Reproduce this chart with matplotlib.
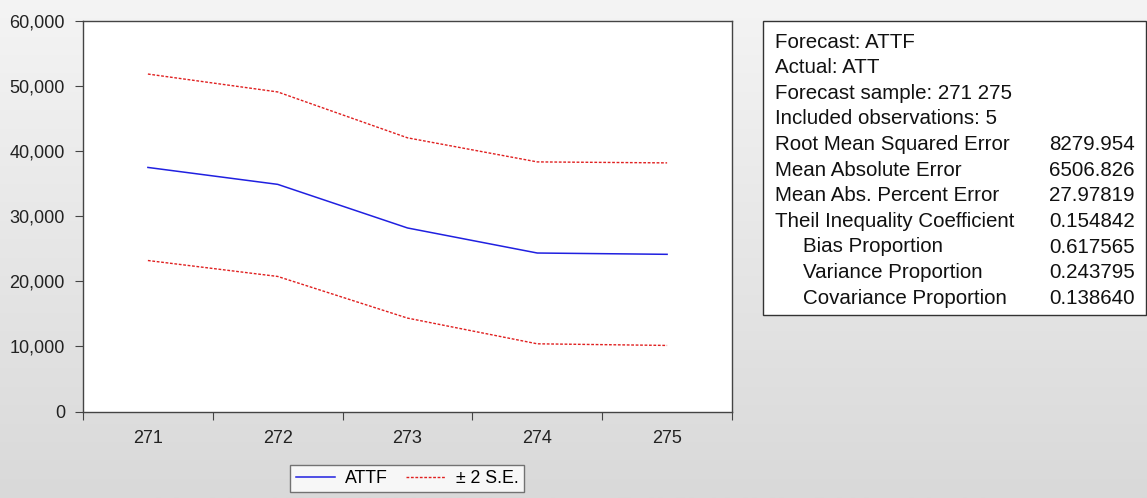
"""Forecast chart of ATTF with +/- 2 S.E. bands and forecast evaluation table."""

import numpy as np
import matplotlib.pyplot as plt
from matplotlib.patches import Rectangle
from matplotlib.ticker import FuncFormatter

plt.rcParams['font.family'] = ['Liberation Sans', 'DejaVu Sans']

# data
periods = ['271', '272', '273', '274', '275']
attf = [37500, 34900, 28200, 24350, 24150]
upper = [51850, 49100, 42050, 38350, 38200]
lower = [23200, 20750, 14350, 10400, 10150]

stat_labels = ['Forecast: ATTF', 'Actual: ATT', 'Forecast sample: 271 275',
               'Included observations: 5', 'Root Mean Squared Error',
               'Mean Absolute Error', 'Mean Abs. Percent Error',
               'Theil Inequality Coefficient', 'Bias Proportion',
               'Variance Proportion', 'Covariance Proportion']
stat_values = ['', '', '', '', '8279.954', '6506.826', '27.97819',
               '0.154842', '0.617565', '0.243795', '0.138640']
stat_indent = [False] * 8 + [True] * 3

W, H = 1147, 498
fig = plt.figure(figsize=(W / 100, H / 100), dpi=100)


def fx(x):
    return x / W


def fy(y):
    return 1 - y / H


# gray gradient background
bg = fig.add_axes([0, 0, 1, 1], zorder=-10)
grad = np.linspace(0, 1, 256)[:, None]
bg.imshow(grad, cmap=plt.matplotlib.colors.LinearSegmentedColormap.from_list(
    'g', ['#f4f4f4', '#d9d9d9']), aspect='auto', extent=[0, 1, 0, 1])
bg.axis('off')

# main plot
ax = fig.add_axes([fx(83), fy(411.5), fx(732 - 83), (411.5 - 21) / H])
x = np.arange(len(periods))
ax.plot(x, attf, color='#2020e0', lw=1.1, label='ATTF')
ax.plot(x, upper, color='#e02020', lw=1.0, ls=(0, (2, 1.2)), label='± 2 S.E.')
ax.plot(x, lower, color='#e02020', lw=1.0, ls=(0, (2, 1.2)))

ax.set_xlim(-0.5, len(periods) - 0.5)
ax.set_ylim(0, 60000)
ax.set_yticks(range(0, 60001, 10000))
ax.yaxis.set_major_formatter(FuncFormatter(lambda v, p: f'{int(v):,}'))
ax.set_xticks(np.arange(len(periods) + 1) - 0.5)
ax.set_xticklabels([])
ax.set_xticks(x, minor=True)
ax.set_xticklabels(periods, minor=True)
ax.tick_params(axis='x', which='minor', length=0, pad=13, labelsize=13,
               colors='#222222')
ax.tick_params(axis='x', which='major', length=6, direction='out',
               color='#444444')
ax.tick_params(axis='y', length=6, direction='out', pad=7, labelsize=13,
               color='#444444', labelcolor='#222222')
for s in ax.spines.values():
    s.set_color('#444444')
    s.set_linewidth(1.0)

leg = fig.legend(loc='center', bbox_to_anchor=(fx(407), fy(478.5)),
                 ncol=2, frameon=True, fancybox=False, fontsize=12.8,
                 handlelength=2.2, columnspacing=1.0, handletextpad=0.6,
                 borderpad=0.3)
leg.get_frame().set_edgecolor('#555555')
leg.get_frame().set_linewidth(1.0)

# statistics box
box = Rectangle((fx(763), fy(315)), fx(1146 - 763), (315 - 21) / H,
                transform=fig.transFigure, facecolor='white',
                edgecolor='#333333', lw=1.0)
fig.patches.append(box)
for i, (lab, val, ind) in enumerate(zip(stat_labels, stat_values, stat_indent)):
    yb = 47.7 + i * 25.6
    fig.text(fx(803 if ind else 775), fy(yb), lab, fontsize=14.8,
             va='baseline', ha='left', color='#111111')
    if val:
        fig.text(fx(1135), fy(yb), val, fontsize=14.8, va='baseline',
                 ha='right', color='#111111')

fig.savefig('out.png', dpi=100)
